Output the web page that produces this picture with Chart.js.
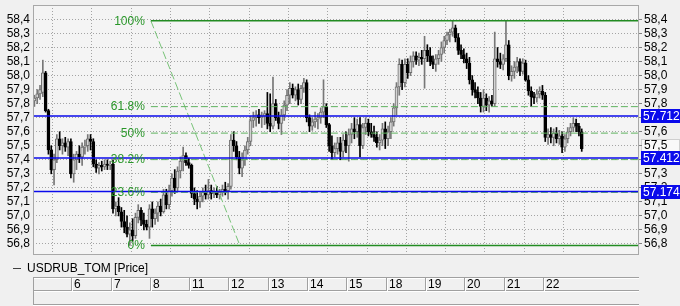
<!DOCTYPE html>
<html>
<head>
<meta charset="utf-8">
<script src="https://cdn.jsdelivr.net/npm/chart.js@4.4.1/dist/chart.umd.min.js"></script>
<style>
  html, body { margin: 0; padding: 0; background: #f0f0f0; }
  canvas { display: block; }
</style>
</head>
<body>
<canvas id="chart" width="680" height="306"></canvas>
<script>
// hourly bars, 14 per trading day
const barsPerDay = 14;
const dayLabels = ['6', '7', '8', '11', '12', '13', '14', '15', '18', '19', '20', '21', '22'];

const open = [
  57.82,57.84,57.87,57.88,58.02,57.75,57.47,57.33,57.40,57.55,57.50,57.52,57.49,57.53,
  57.30,57.40,57.44,57.42,57.49,57.50,57.55,57.53,57.37,57.34,57.36,57.35,57.37,57.36,
  57.37,57.05,57.07,57.03,56.96,56.92,56.87,56.90,56.86,56.99,57.04,56.97,56.94,56.92,
  57.05,56.98,57.02,57.07,57.03,57.15,57.08,57.18,57.27,57.20,57.32,57.39,57.43,57.38,
  57.36,57.16,57.12,57.10,57.14,57.17,57.15,57.18,57.16,57.17,57.15,57.17,57.19,57.18,
  57.21,57.54,57.50,57.42,57.34,57.40,57.47,57.53,57.68,57.70,57.72,57.70,57.71,57.73,
  57.66,57.64,57.80,57.70,57.66,57.72,57.79,57.86,57.91,57.86,57.90,57.83,57.91,57.95,
  57.70,57.64,57.67,57.69,57.70,57.74,57.78,57.65,57.50,57.45,57.48,57.52,57.46,57.54,
  57.50,57.58,57.62,57.60,57.65,57.50,57.63,57.66,57.60,57.58,57.56,57.52,57.54,57.62,
  57.55,57.60,57.67,57.77,57.92,58.08,57.95,58.08,58.02,58.10,58.14,58.11,58.13,58.12,
  58.18,58.14,58.10,58.08,58.12,58.15,58.20,58.25,58.29,58.31,58.34,58.27,58.18,58.15,
  58.12,58.09,57.97,57.90,57.88,57.84,57.78,57.84,57.79,57.82,57.80,58.12,58.10,58.08,
  58.12,58.22,58.00,58.03,58.06,58.10,58.03,58.09,57.97,57.89,57.85,57.84,57.87,57.89,
  57.86,57.56,57.58,57.56,57.59,57.55,57.57,57.49,57.55,57.60,57.63,57.66,57.64,57.60
];
const high = [
  57.86,57.90,57.93,58.11,58.03,57.76,57.50,57.44,57.58,57.60,57.55,57.56,57.55,57.55,
  57.44,57.46,57.50,57.52,57.54,57.58,57.58,57.55,57.40,57.38,57.39,57.40,57.40,57.39,
  57.40,57.10,57.13,57.06,57.04,57.00,56.95,56.98,57.02,57.08,57.06,57.02,56.97,57.08,
  57.10,57.05,57.10,57.12,57.19,57.19,57.22,57.30,57.33,57.35,57.42,57.49,57.45,57.41,
  57.37,57.20,57.18,57.17,57.20,57.22,57.26,57.22,57.20,57.21,57.19,57.22,57.24,57.23,
  57.58,57.60,57.53,57.46,57.45,57.50,57.56,57.71,57.74,57.75,57.76,57.74,57.75,57.88,
  57.87,57.99,57.83,57.74,57.76,57.82,57.90,57.95,57.94,57.92,57.94,57.93,57.98,57.97,
  57.72,57.70,57.74,57.73,57.77,57.97,57.80,57.66,57.57,57.52,57.56,57.56,57.58,57.60,
  57.62,57.66,57.70,57.69,57.70,57.66,57.70,57.69,57.66,57.64,57.60,57.58,57.66,57.67,
  57.64,57.70,57.80,57.95,58.12,58.11,58.12,58.12,58.14,58.17,58.17,58.16,58.18,58.28,
  58.22,58.20,58.14,58.15,58.18,58.24,58.28,58.31,58.33,58.39,58.36,58.30,58.22,58.19,
  58.16,58.13,58.00,57.95,57.92,57.88,57.90,57.87,57.85,57.86,58.31,58.20,58.16,58.15,
  58.39,58.25,58.07,58.10,58.13,58.12,58.12,58.11,58.00,57.92,57.88,57.90,57.92,57.93,
  57.88,57.62,57.63,57.62,57.63,57.61,57.60,57.58,57.63,57.66,57.70,57.69,57.66,57.62
];
const low = [
  57.78,57.80,57.83,57.85,57.74,57.44,57.30,57.22,57.38,57.47,57.44,57.46,57.43,57.27,
  57.24,57.33,57.38,57.36,57.44,57.46,57.47,57.35,57.31,57.30,57.32,57.33,57.33,57.33,
  57.02,57.00,57.00,56.92,56.88,56.85,56.79,56.82,56.84,56.95,56.93,56.90,56.90,56.84,
  56.92,56.94,56.96,57.00,57.02,57.05,57.05,57.14,57.16,57.18,57.27,57.32,57.36,57.34,
  57.13,57.08,57.05,57.06,57.10,57.12,57.12,57.12,57.13,57.13,57.12,57.14,57.15,57.12,
  57.19,57.46,57.40,57.30,57.28,57.36,57.44,57.50,57.63,57.64,57.66,57.63,57.65,57.62,
  57.60,57.62,57.68,57.62,57.58,57.68,57.75,57.80,57.84,57.82,57.79,57.80,57.88,57.67,
  57.60,57.61,57.63,57.62,57.66,57.70,57.63,57.46,57.40,57.42,57.44,57.40,57.42,57.45,
  57.39,57.52,57.55,57.56,57.42,57.48,57.58,57.57,57.56,57.53,57.49,57.47,57.50,57.48,
  57.50,57.55,57.64,57.72,57.86,57.90,57.92,57.98,58.00,58.06,58.08,58.07,58.08,57.91,
  58.10,58.07,58.05,58.03,58.08,58.10,58.16,58.22,58.24,58.28,58.24,58.15,58.12,58.09,
  58.05,57.94,57.86,57.84,57.80,57.74,57.74,57.75,57.74,57.78,57.78,58.06,58.05,58.04,
  58.10,57.97,57.96,57.98,58.02,58.00,58.01,57.96,57.86,57.78,57.80,57.81,57.84,57.83,
  57.53,57.51,57.52,57.50,57.52,57.51,57.45,57.46,57.52,57.57,57.60,57.60,57.57,57.46
];
const close = [
  57.84,57.87,57.90,58.02,57.75,57.47,57.33,57.40,57.55,57.50,57.52,57.49,57.53,57.30,
  57.40,57.44,57.42,57.49,57.50,57.55,57.53,57.37,57.34,57.36,57.35,57.37,57.36,57.37,
  57.05,57.07,57.03,56.96,56.92,56.87,56.90,56.86,56.99,57.04,56.97,56.94,56.92,57.05,
  56.98,57.02,57.07,57.03,57.15,57.08,57.18,57.27,57.20,57.32,57.39,57.43,57.38,57.36,
  57.16,57.12,57.10,57.14,57.17,57.15,57.18,57.16,57.17,57.15,57.17,57.19,57.18,57.21,
  57.54,57.50,57.42,57.34,57.40,57.47,57.53,57.68,57.70,57.72,57.70,57.71,57.73,57.66,
  57.64,57.80,57.70,57.66,57.72,57.79,57.86,57.91,57.86,57.90,57.83,57.91,57.95,57.70,
  57.64,57.67,57.69,57.70,57.74,57.78,57.65,57.50,57.45,57.48,57.52,57.46,57.54,57.50,
  57.58,57.62,57.60,57.65,57.50,57.63,57.66,57.60,57.58,57.56,57.52,57.54,57.62,57.55,
  57.60,57.67,57.77,57.92,58.08,57.95,58.08,58.02,58.10,58.14,58.11,58.13,58.12,58.18,
  58.14,58.10,58.08,58.12,58.15,58.20,58.25,58.29,58.31,58.34,58.27,58.18,58.15,58.12,
  58.09,57.97,57.90,57.88,57.84,57.78,57.84,57.79,57.82,57.80,58.12,58.10,58.08,58.12,
  58.22,58.00,58.03,58.06,58.10,58.03,58.09,57.97,57.89,57.85,57.84,57.87,57.89,57.86,
  57.56,57.58,57.56,57.59,57.55,57.57,57.49,57.55,57.60,57.63,57.66,57.64,57.60,57.48
];

// fibonacci tool anchors
const fibHigh = 58.39;
const fibLow = 56.79;
const fibRatios = [1, 0.618, 0.5, 0.382, 0.236, 0];
const fibNames = ['100%', '61.8%', '50%', '38.2%', '23.6%', '0%'];
const fibStart = 41.5;
const fibEnd = 73.2;

// horizontal price lines (blue)
const priceLines = [57.712, 57.412, 57.174];

const yTicks = [56.8, 56.9, 57.0, 57.1, 57.2, 57.3, 57.4, 57.5, 57.6, 57.7, 57.8, 57.9, 58.0, 58.1, 58.2, 58.3, 58.4];
const lastTick = 57.5;

const yMin = 56.7215, yMax = 58.503;
const xMin = -0.5, xMax = 215.4;

const FONT = '"Liberation Sans", Arial, sans-serif';
Chart.defaults.font.family = FONT;
Chart.defaults.font.size = 12;
Chart.defaults.color = '#000';

const isUp = i => close[i] >= open[i];
const fmt = v => v.toFixed(1).replace('.', ',');

const wicks = {
    type: 'bar', order: 3, grouped: false, barThickness: 1,
    data: high.map((h, i) => ({ x: i, y: [low[i], h] })),
    backgroundColor: high.map((h, i) => isUp(i) ? '#777777' : '#000000'),
    borderWidth: 0,
};
const bodies = {
    type: 'bar', order: 2, grouped: false, barThickness: 3, minBarLength: 1,
    data: open.map((o, i) => ({ x: i, y: [o, close[i]] })),
    backgroundColor: open.map((o, i) => isUp(i) ? '#d4d4d4' : '#000000'),
    borderColor: open.map((o, i) => isUp(i) ? '#6e6e6e' : '#000000'),
    borderWidth: 1, borderSkipped: false,
};

const fibLevels = fibRatios.map(r => fibLow + r * (fibHigh - fibLow));
const fibSets = fibLevels.map((v, k) => {
    const solid = fibRatios[k] === 0 || fibRatios[k] === 1;
    return {
        type: 'line', order: 1, pointRadius: 0,
        data: [{ x: fibStart, y: v }, { x: xMax, y: v }],
        borderColor: solid ? 'rgb(34,139,34)' : 'rgb(95,178,95)',
        borderWidth: solid ? 1.5 : 1,
        borderDash: solid ? [] : [7, 3],
    };
});
const diagonal = {
    type: 'line', order: 1, pointRadius: 0,
    data: [{ x: fibStart, y: fibHigh }, { x: fibEnd, y: fibLow }],
    borderColor: 'rgb(120,195,120)', borderWidth: 1, borderDash: [8, 3],
};
const blueSets = priceLines.map(v => ({
    type: 'line', order: 0, pointRadius: 0,
    data: [{ x: xMin, y: v }, { x: xMax, y: v }],
    borderColor: 'rgb(10,10,235)', borderWidth: 1.5,
}));

const yTickSetter = s => { s.ticks = yTicks.map(v => ({ value: v })); };
// keep the plot area where the layout padding puts it
const noLabelPadding = s => { s.paddingTop = 0; s.paddingBottom = 0; };

const decor = {
    id: 'decor',
    beforeDraw(chart) {
        const { ctx, chartArea: a, scales } = chart;
        ctx.save();
        ctx.fillStyle = '#f0f0f0';
        ctx.fillRect(0, 0, chart.width, chart.height);
        ctx.fillStyle = '#f4f4f4';
        ctx.fillRect(a.left, a.top, a.right - a.left, a.bottom - a.top);
        // last price marker on right axis
        const y = Math.round(scales.y2.getPixelForValue(lastTick));
        ctx.fillStyle = '#f9f9f9';
        ctx.strokeStyle = '#cfcfcf';
        ctx.lineWidth = 1;
        ctx.fillRect(641, y - 7, 39, 14);
        ctx.strokeRect(641.5, y - 6.5, 38, 13);
        ctx.restore();
    },
    afterDatasetsDraw(chart) {
        const { ctx, scales } = chart;
        const x = scales.x.getPixelForValue(fibStart) - 6;
        ctx.save();
        ctx.font = '12px ' + FONT;
        ctx.fillStyle = 'rgb(40,150,40)';
        ctx.textAlign = 'right';
        ctx.textBaseline = 'middle';
        fibLevels.forEach((v, k) => ctx.fillText(fibNames[k], x, scales.y.getPixelForValue(v) + 0.5));
        ctx.restore();
    },
    afterDraw(chart) {
        const { ctx, chartArea: a, scales } = chart;
        ctx.save();
        // frame
        ctx.strokeStyle = '#a8a8a8';
        ctx.lineWidth = 1;
        ctx.strokeRect(a.left + 0.5, a.top + 0.5, a.right - a.left - 1, a.bottom - a.top - 1);

        // blue price labels
        ctx.font = '12px ' + FONT;
        ctx.textBaseline = 'middle';
        ctx.textAlign = 'left';
        priceLines.forEach(v => {
            const y = Math.round(scales.y2.getPixelForValue(v));
            ctx.fillStyle = 'rgb(10,10,235)';
            ctx.fillRect(641, y - 7, 39, 14);
            ctx.fillStyle = '#ffffff';
            ctx.fillText(v.toFixed(3), 643, y + 0.5);
        });

        // legend
        ctx.strokeStyle = '#404040';
        ctx.beginPath();
        ctx.moveTo(13, 268.5);
        ctx.lineTo(21, 268.5);
        ctx.stroke();
        ctx.fillStyle = '#000';
        ctx.fillText('USDRUB_TOM [Price]', 27, 268.5);

        // day table
        const L = a.left, R = a.right;
        const hline = (y, c) => {
            ctx.strokeStyle = c;
            ctx.beginPath(); ctx.moveTo(L, y); ctx.lineTo(R, y); ctx.stroke();
        };
        const vline = (x, y0, y1, c) => {
            ctx.strokeStyle = c;
            ctx.beginPath(); ctx.moveTo(x, y0); ctx.lineTo(x, y1); ctx.stroke();
        };
        hline(277.5, '#a0a0a0'); hline(278.5, '#ffffff');
        hline(290.5, '#a0a0a0'); hline(291.5, '#ffffff');
        hline(304.5, '#a0a0a0'); hline(305.5, '#ffffff');
        vline(L + 0.5, 277, 305, '#a0a0a0');
        dayLabels.forEach((d, k) => {
            const x = Math.round(scales.x.getPixelForValue((k + 1) * barsPerDay - 0.5));
            vline(x - 0.5, 277, 291, '#a0a0a0');
            vline(x + 0.5, 278, 291, '#ffffff');
            ctx.fillStyle = '#000';
            ctx.fillText(d, x + 2, 284.5);
        });
        ctx.restore();
    },
};

new Chart(document.getElementById('chart'), {
    type: 'bar',
    data: { datasets: [wicks, bodies, ...fibSets, diagonal, ...blueSets] },
    options: {
        responsive: false,
        devicePixelRatio: 1,
        animation: false,
        events: [],
        layout: { padding: { top: 5, bottom: 51, left: 0, right: 0 } },
        plugins: { legend: { display: false }, tooltip: { enabled: false } },
        scales: {
            x: {
                type: 'linear', min: xMin, max: xMax, offset: false,
                afterBuildTicks: s => { s.ticks = dayLabels.map((d, k) => ({ value: (k + 1) * barsPerDay - 0.5 })); },
                afterFit: s => { s.height = 0; s.paddingLeft = 0; s.paddingRight = 0; },
                ticks: { display: false, autoSkip: false },
                grid: { color: '#a4a4a4', drawTicks: false },
                border: { display: false, dash: [1, 2] },
            },
            y: {
                position: 'left', min: yMin, max: yMax,
                afterBuildTicks: yTickSetter,
                afterFit: s => { s.width = 33; noLabelPadding(s); },
                ticks: { autoSkip: false, padding: 3, callback: v => fmt(v) },
                grid: { color: '#a4a4a4', drawTicks: false },
                border: { display: false, dash: [1, 2] },
            },
            y2: {
                position: 'right', min: yMin, max: yMax,
                afterBuildTicks: yTickSetter,
                afterFit: s => { s.width = 41; noLabelPadding(s); },
                ticks: { autoSkip: false, padding: 2, callback: v => fmt(v) },
                grid: { drawOnChartArea: false, drawTicks: true, tickLength: 3, tickColor: '#808080' },
                border: { display: false },
            },
        },
    },
    plugins: [decor],
});
</script>
</body>
</html>
